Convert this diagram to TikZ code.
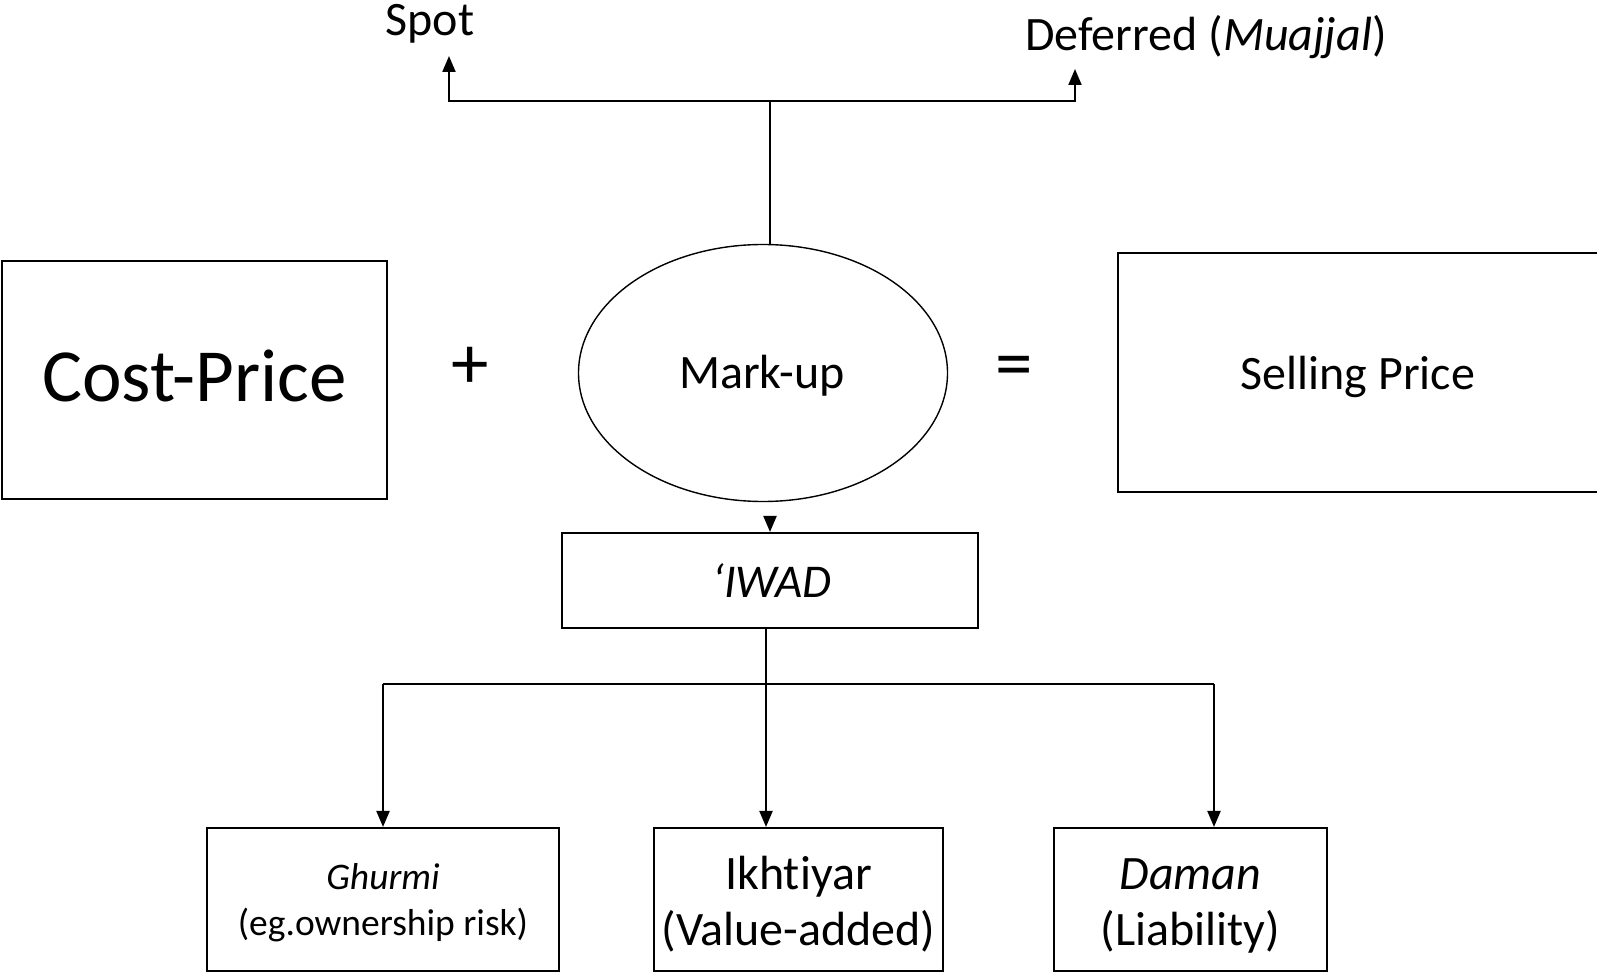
\documentclass[tikz,border=0pt]{standalone}
\usepackage{fontspec}
\setmainfont[Ligatures=NoCommon]{Carlito}
\usetikzlibrary{arrows.meta,shapes.geometric}
\begin{document}
\begin{tikzpicture}[x=1pt,y=-1pt,
  box/.style={draw=black,line width=2.1pt,rectangle,inner sep=0pt},
  oval/.style={draw=black,line width=1.4pt,ellipse,inner sep=0pt},
  conn/.style={draw=black,line width=2.1pt},
  arr/.style={conn,-{Triangle[length=16pt,width=13pt]}},
  big/.style={font=\fontsize{75}{90}\selectfont},
  mid/.style={font=\fontsize{48}{58}\selectfont},
  small/.style={font=\fontsize{37.5}{45}\selectfont}]
\useasboundingbox (0,0) rectangle (1597,973);
\clip (0,0) rectangle (1597,973);
% shapes
\node[box,minimum width=385pt,minimum height=238pt] (cost) at (194.5,380) {};
\node[box,minimum width=520pt,minimum height=239pt] (sell) at (1378,372.5) {};
\node[oval,minimum width=369pt,minimum height=257pt] (mu) at (763,373) {};
\node[box,minimum width=416pt,minimum height=95pt] (iwad) at (770,580.5) {};
\node[box,minimum width=352pt,minimum height=143pt] (gh) at (383,899.5) {};
\node[box,minimum width=289pt,minimum height=143pt] (ikh) at (798.5,899.5) {};
\node[box,minimum width=273pt,minimum height=143pt] (dm) at (1190.5,899.5) {};
% texts
\node[big,anchor=base] (costt) at (194.5,401) {Cost-Price};
\node[big,anchor=base] (plus) at (470,388) {+};
\node[big,anchor=base] (eq) at (1014,388) {=};
\node[mid,anchor=base] (mut) at (762,388) {Mark-up};
\node[mid,anchor=base] (sellt) at (1358,389) {Selling Price};
\node[mid,anchor=base] (spot) at (430,36) {Spot};
\node[mid,anchor=base] (def) at (1206,51) {Deferred (\textit{Muajjal})};
\node[font=\fontsize{47}{56}\selectfont\itshape,anchor=base] (iwadt) at (772,597) {‘IWAD};
\node[small,anchor=base] (gh1) at (383,889) {\textit{Ghurmi}};
\node[small,anchor=base] (gh2) at (383,935) {(eg.ownership risk)};
\node[mid,anchor=base] (ikh1) at (798.5,889) {Ikhtiyar};
\node[mid,anchor=base] (ikh2) at (798.5,945) {(Value-added)};
\node[mid,anchor=base] (dm1) at (1190.5,889) {\textit{Daman}};
\node[mid,anchor=base] (dm2) at (1190.5,945) {(Liability)};
% connectors top
\coordinate (jt) at (770,101);
\coordinate (spotTip) at (449,56);
\coordinate (defTip) at (1075,69);
\draw[conn] (mu.north -| jt) -- (jt);
\draw[arr] (jt) -| (spotTip);
\draw[arr] (jt) -| (defTip);
% mark-up to iwad
\coordinate (mTip) at (770,516);
\draw[arr] (mTip) -- (iwad.north -| mTip);
% iwad to children
\coordinate (jb) at (766,684);
\coordinate (hl) at (383,684);
\coordinate (hr) at (1214,684);
\draw[conn] (hl) -- (hr);
\draw[arr] (iwad.south -| jb) -- (ikh.north -| jb);
\draw[arr] (hl) -- (gh.north -| hl);
\draw[arr] (hr) -- (dm.north -| hr);
\end{tikzpicture}
\end{document}
